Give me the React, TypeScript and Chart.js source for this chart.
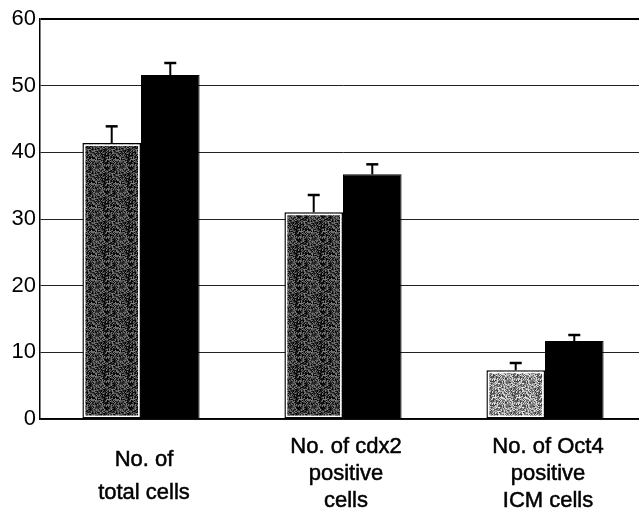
import React, { useEffect, useRef } from "react";
import { Chart, registerables } from "chart.js";

Chart.register(...registerables);

const categories: string[][] = [
  ["No. of", "total cells"],
  ["No. of cdx2", "positive", "cells"],
  ["No. of Oct4", "positive", "ICM cells"],
];
const controlValues = [41.4, 31.0, 7.3];
const controlErrors = [2.5, 2.6, 1.1];
const treatedValues = [51.6, 36.7, 11.7];
const treatedErrors = [1.8, 1.5, 0.9];
const yTicks = [0, 10, 20, 30, 40, 50, 60];

const FONT = "'Liberation Sans', Arial, sans-serif";

function hash(n: number) {
  let x = (n * 374761393) ^ 0x5bd1e995;
  x = (x ^ (x >>> 13)) * 1274126177;
  x = x ^ (x >>> 16);
  return ((x >>> 0) % 1000) / 1000;
}

function makePattern(ctx: CanvasRenderingContext2D, base: number, spread: number, seed: number) {
  const c = document.createElement("canvas");
  c.width = 24;
  c.height = 24;
  const g = c.getContext("2d")!;
  for (let y = 0; y < 24; y++) {
    for (let x = 0; x < 24; x++) {
      const r = hash(seed + y * 24 + x);
      const v = Math.max(0, Math.min(255, Math.round(base + (r - 0.5) * spread * 2)));
      g.fillStyle = `rgb(${v},${v},${v})`;
      g.fillRect(x, y, 1, 1);
    }
  }
  return ctx.createPattern(c, "repeat")!;
}

export default function App() {
  const ref = useRef<HTMLCanvasElement>(null);

  useEffect(() => {
    const canvas = ref.current!;
    const ctx = canvas.getContext("2d")!;
    const darkPat = makePattern(ctx, 58, 75, 11);
    const lightPat = makePattern(ctx, 145, 95, 57);

    const errors = [controlErrors, treatedErrors];

    const extras = {
      id: "extras",
      afterDatasetsDraw(chart: any) {
        const c = chart.ctx;
        const y = chart.scales.y;
        const meta0 = chart.getDatasetMeta(0);
        c.save();
        meta0.data.forEach((bar: any) => {
          const left = bar.x - bar.width / 2;
          c.strokeStyle = "#ffffff";
          c.lineWidth = 1.5;
          c.strokeRect(left + 2.2, bar.y + 2.2, bar.width - 4.4, bar.base - bar.y - 4.4);
        });
        c.strokeStyle = "#000";
        [0, 1].forEach((di) => {
          const meta = chart.getDatasetMeta(di);
          const vals = chart.data.datasets[di].data as number[];
          meta.data.forEach((bar: any, i: number) => {
            const top = y.getPixelForValue(vals[i] + errors[di][i]);
            c.lineWidth = 2;
            c.beginPath();
            c.moveTo(bar.x, bar.y);
            c.lineTo(bar.x, top);
            c.stroke();
            c.lineWidth = 2.5;
            c.beginPath();
            c.moveTo(bar.x - 6, top);
            c.lineTo(bar.x + 6, top);
            c.stroke();
          });
        });
        c.restore();
      },
      afterDraw(chart: any) {
        const c = chart.ctx;
        const x = chart.scales.x;
        const bottom = chart.chartArea.bottom;
        c.save();
        c.fillStyle = "#000";
        c.strokeStyle = "#000";
        c.lineWidth = 0.5;
        c.font = `22px ${FONT}`;
        c.textAlign = "center";
        c.textBaseline = "middle";
        categories.forEach((lines, i) => {
          const cx = x.getPixelForValue(i) + 3;
          const lh = lines.length === 2 ? 33 : 27;
          const center = bottom + (lines.length === 2 ? 57 : 55);
          const start = center - ((lines.length - 1) * lh) / 2;
          lines.forEach((ln, k) => {
            c.fillText(ln, cx, start + k * lh);
            c.strokeText(ln, cx, start + k * lh);
          });
        });
        c.restore();
      },
    };

    const chart = new Chart(canvas, {
      type: "bar",
      data: {
        labels: categories.map((l) => l.join(" ")),
        datasets: [
          {
            label: "control",
            data: controlValues,
            backgroundColor: [darkPat, darkPat, lightPat],
            borderColor: "#000",
            borderWidth: 1.5,
            borderSkipped: false,
            categoryPercentage: 0.58,
            barPercentage: 1,
          },
          {
            label: "treated",
            data: treatedValues,
            backgroundColor: "#000",
            borderColor: "#000",
            borderWidth: 1,
            categoryPercentage: 0.58,
            barPercentage: 1,
          },
        ],
      },
      options: {
        animation: false,
        responsive: false,
        layout: { padding: { top: 19, bottom: 91, left: 0, right: 0 } },
        plugins: { legend: { display: false }, tooltip: { enabled: false } },
        scales: {
          x: {
            grid: { display: false, drawTicks: false },
            border: { display: true, color: "#000", width: 1.5 },
            ticks: { display: false },
          },
          y: {
            min: 0,
            max: 60,
            afterFit(scale: any) {
              scale.width = 40;
            },
            afterBuildTicks(scale: any) {
              scale.ticks = yTicks.map((v) => ({ value: v }));
            },
            grid: {
              drawTicks: false,
              color: (ctx: any) => (ctx.tick && ctx.tick.value === 60 ? "#000" : "#222"),
              lineWidth: (ctx: any) => (ctx.tick && ctx.tick.value === 60 ? 2 : 1),
            },
            border: { display: true, color: "#000", width: 1.5 },
            ticks: {
              padding: 4,
              color: "#000",
              font: { family: FONT, size: 22 },
            },
          },
        },
      },
      plugins: [extras],
    });
    return () => chart.destroy();
  }, []);

  return (
    <div style={{ position: "absolute", left: 0, top: 0, width: 639, height: 510, overflow: "hidden", background: "#fff" }}>
      <canvas ref={ref} width={646} height={510} style={{ width: 646, height: 510, display: "block" }} />
    </div>
  );
}
